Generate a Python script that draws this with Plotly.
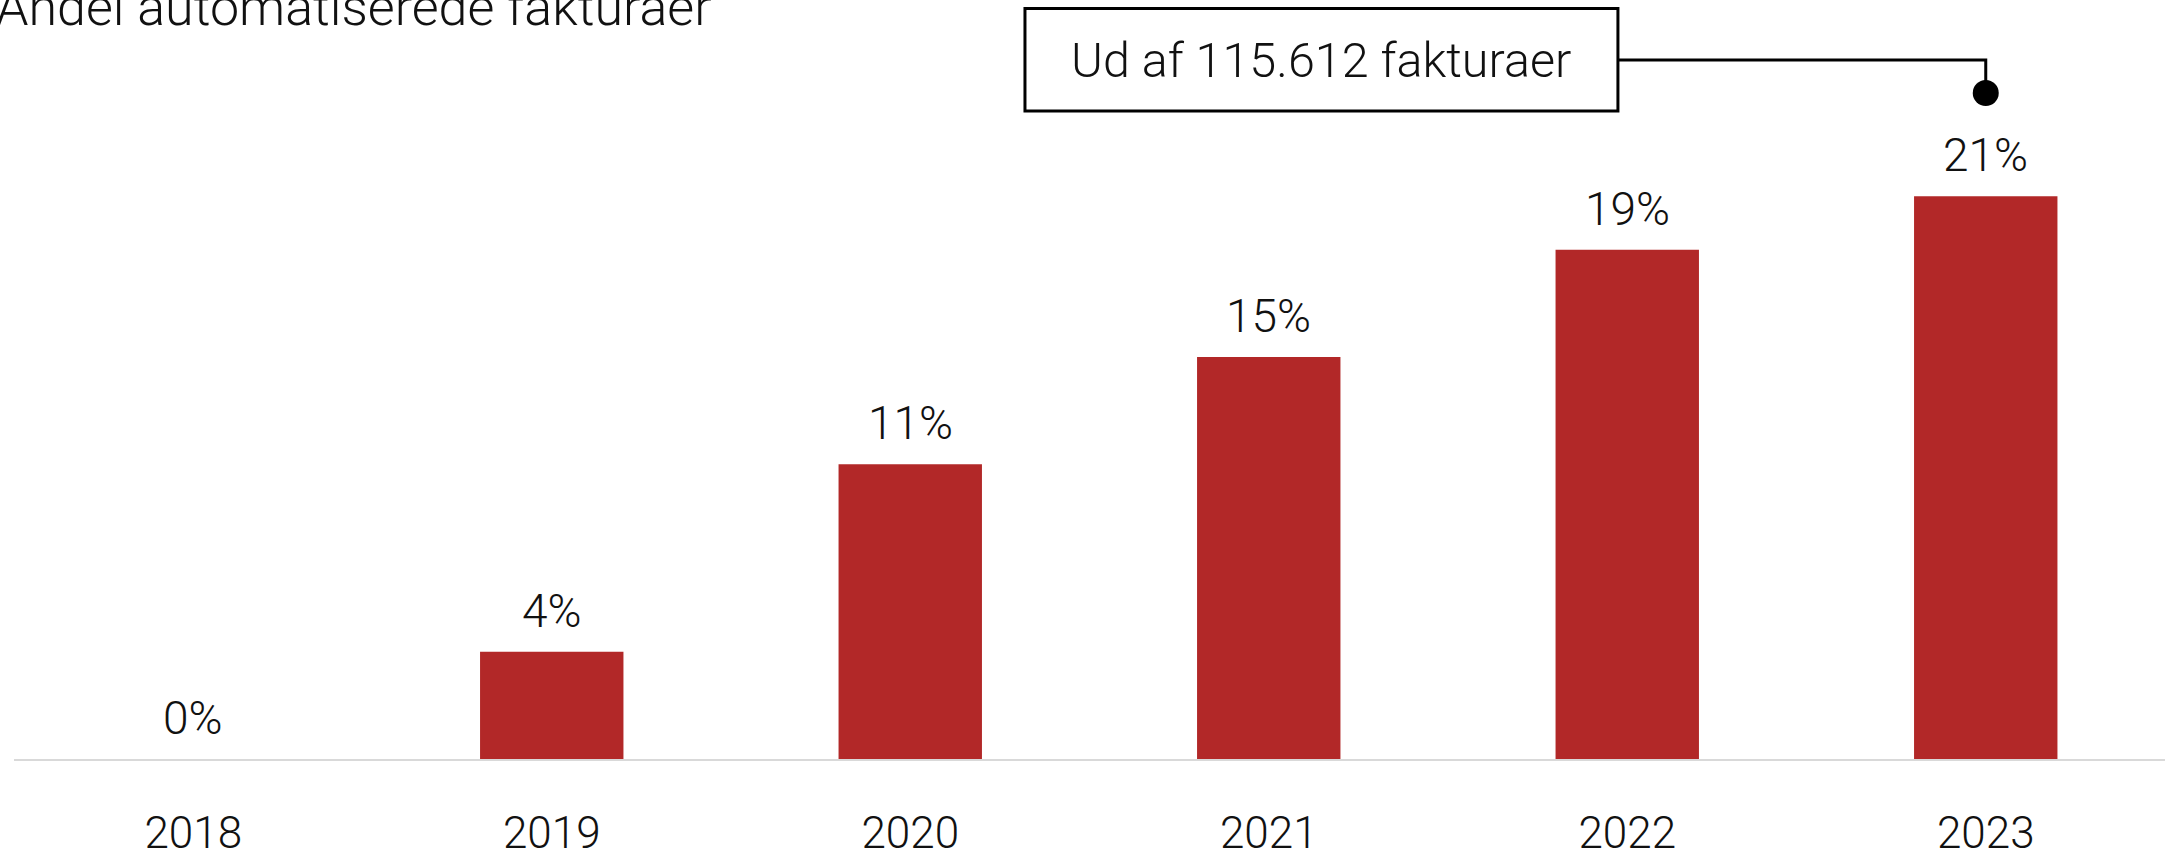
import plotly.graph_objects as go

years = ["2018", "2019", "2020", "2021", "2022", "2023"]
shares = [0, 4, 11, 15, 19, 21]
labels = ["0%", "4%", "11%", "15%", "19%", "21%"]
title_text = "Andel automatiserede fakturaer"
callout_text = "Ud af 115.612 fakturaer"

BAR_COLOR = "#B22828"
FONT = "Roboto"

fig = go.Figure()
fig.add_trace(go.Bar(
    x=years, y=shares, marker=dict(color=BAR_COLOR, line=dict(width=0)),
    hoverinfo="skip", showlegend=False,
))

annotations = []
for i, (v, lab) in enumerate(zip(shares, labels)):
    annotations.append(dict(
        x=i, y=v, xref="x", yref="y", text=lab, showarrow=False,
        yanchor="bottom", yshift=12,
        font=dict(family=FONT, size=46, color="#111111", weight=300),
    ))

# title (partially cut at top-left like the reference)
annotations.append(dict(
    x=0.3254, y=0.9895, xref="paper", yref="paper", text=title_text,
    showarrow=False, xanchor="right", yanchor="middle",
    font=dict(family=FONT, size=52, color="#111111", weight=300),
))

# callout
box_x0, box_x1 = 2.320, 3.974
box_y0, box_y1 = 24.18, 28.0
line_y = 26.08
dot_y = 24.85
last_idx = len(years) - 1

annotations.append(dict(
    x=(box_x0 + box_x1) / 2, y=line_y, xref="x", yref="y", text=callout_text,
    showarrow=False, xanchor="center", yanchor="middle",
    font=dict(family=FONT, size=48.5, color="#111111", weight=300),
))

shapes = [
    dict(type="rect", xref="x", yref="y", x0=box_x0, x1=box_x1, y0=box_y0, y1=box_y1,
         line=dict(color="black", width=3), fillcolor="white", layer="above"),
    dict(type="path", xref="x", yref="y",
         path=f"M {box_x1} {line_y} L {last_idx} {line_y} L {last_idx} {dot_y}",
         line=dict(color="black", width=3), layer="above"),
    dict(type="circle", xref="x", yref="y", xsizemode="pixel", ysizemode="pixel",
         xanchor=last_idx, yanchor=dot_y, x0=-13, x1=13, y0=-13, y1=13,
         fillcolor="black", line=dict(color="black", width=0), layer="above"),
]

fig.update_layout(
    width=2165, height=855,
    margin=dict(l=14, r=0, t=0, b=96),
    paper_bgcolor="white", plot_bgcolor="white",
    bargap=0.6,
    annotations=annotations, shapes=shapes,
    font=dict(family=FONT, color="#111111"),
)
fig.update_xaxes(
    type="category", range=[-0.5, 5.5], automargin=False,
    showline=True, linecolor="#d9d9d9", linewidth=2,
    showgrid=False, zeroline=False,
    ticks="outside", ticklen=34, tickcolor="rgba(0,0,0,0)",
    tickfont=dict(family=FONT, size=44, color="#111111", weight=300),
)
fig.update_yaxes(
    range=[0, 28.32], visible=False, showgrid=False, zeroline=False,
    automargin=False,
)

fig.write_html("out.html", config={"displayModeBar": False},
               post_script="document.body.style.margin='0';")
